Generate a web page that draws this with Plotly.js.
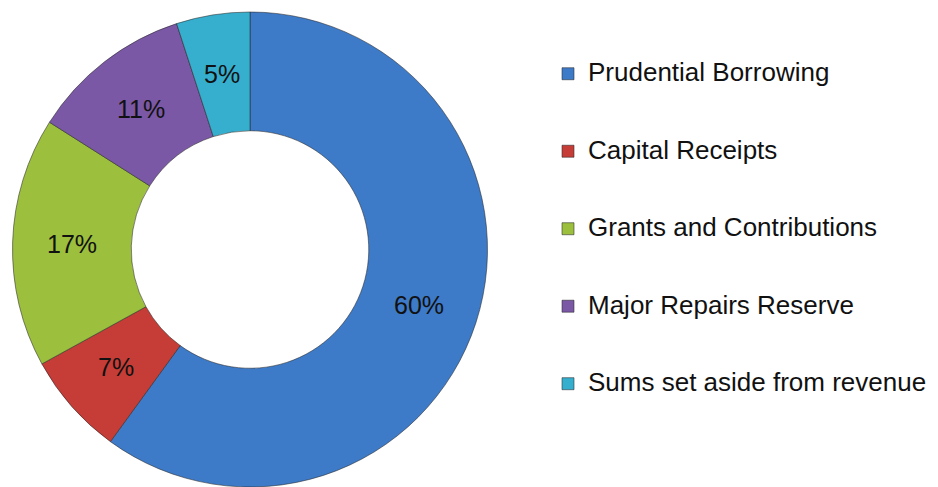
<!DOCTYPE html>
<html>
<head>
<meta charset="utf-8">
<script src="https://cdn.plot.ly/plotly-3.0.1.min.js"></script>
<style>html,body{margin:0;padding:0;background:#fff;}#chart{width:938px;height:487px;}</style>
</head>
<body>
<div id="chart"></div>
<script>
var categories = ["Prudential Borrowing", "Capital Receipts", "Grants and Contributions", "Major Repairs Reserve", "Sums set aside from revenue"];
var shares = [60, 7, 17, 11, 5];
var sliceColors = ["#3d7ac8", "#c63d37", "#9cbf3e", "#7b58a6", "#36afcf"];

var W = 938, H = 487;
var dom = { x: [12 / W, 488 / W], y: [0, 475 / H] };

var legendLabels = categories.map(function (c) {
  return "<br><span style='font-size:26px'>" + c + "</span><br> ";
});

var trace = {
  type: "pie",
  labels: legendLabels,
  values: shares,
  hole: 0.5,
  sort: false,
  direction: "clockwise",
  rotation: 0,
  marker: { colors: sliceColors, line: { color: "rgba(40,40,40,0.55)", width: 1 } },
  textinfo: "none",
  domain: dom,
  hoverinfo: "percent"
};

// percentage labels placed at the middle of each ring segment, derived from the shares
var total = shares.reduce(function (a, b) { return a + b; }, 0);
var cxPx = (dom.x[0] + dom.x[1]) / 2 * W;
var cyPx = (dom.y[0] + dom.y[1]) / 2 * H;
var Rpx = Math.min((dom.x[1] - dom.x[0]) * W, (dom.y[1] - dom.y[0]) * H) / 2;
var rText = Rpx * 0.75;
var annotations = [];
var cum = 0;
shares.forEach(function (v) {
  var mid = (cum + v / 2) / total * 2 * Math.PI;
  cum += v;
  annotations.push({
    xref: "paper", yref: "paper",
    x: (cxPx + rText * Math.sin(mid)) / W,
    y: (cyPx + rText * Math.cos(mid)) / H,
    xanchor: "center", yanchor: "middle",
    text: Math.round(v / total * 100) + "%",
    showarrow: false,
    font: { family: "Liberation Sans, Arial, sans-serif", size: 25, color: "#111111" }
  });
});

var layout = {
  width: W,
  height: H,
  margin: { l: 0, r: 0, t: 0, b: 0 },
  paper_bgcolor: "#ffffff",
  showlegend: true,
  annotations: annotations,
  legend: {
    x: 548 / W,
    xanchor: "left",
    y: 1 - 30 / H,
    yanchor: "top",
    font: { family: "Liberation Sans, Arial, sans-serif", size: 19.1, color: "#111111" },
    bgcolor: "rgba(0,0,0,0)"
  }
};

Plotly.newPlot("chart", [trace], layout, { displayModeBar: false, staticPlot: true });
</script>
</body>
</html>
